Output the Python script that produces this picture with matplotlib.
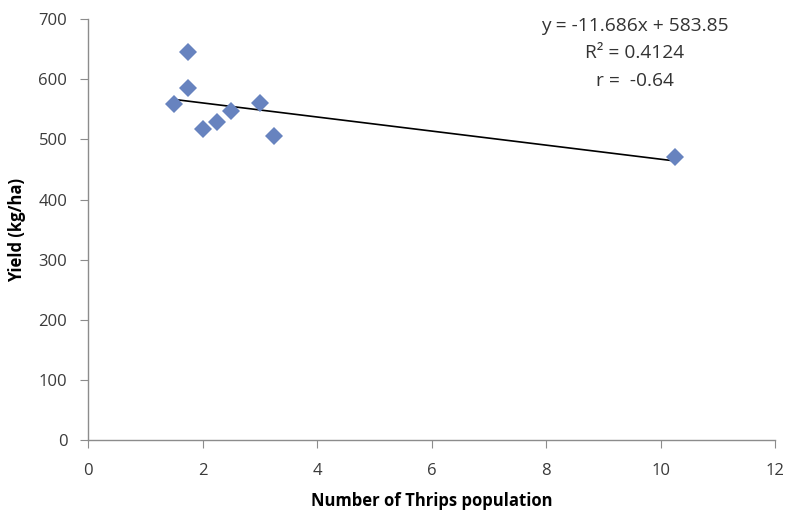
import matplotlib
matplotlib.use('Agg')
from matplotlib import pyplot as plt

# Data
thrips = [1.5, 1.75, 1.75, 2.0, 2.25, 2.5, 3.0, 3.25, 10.25]
yield_kg = [559, 645, 585, 517, 529, 547, 560, 506, 471]

slope, intercept = -11.686, 583.85
r_squared, r_value = 0.4124, -0.64

x_ticks = [0, 2, 4, 6, 8, 10, 12]
y_ticks = [0, 100, 200, 300, 400, 500, 600, 700]

plt.rcParams['font.family'] = ['Open Sans', 'DejaVu Sans']

fig = plt.figure(figsize=(7.87, 5.12), dpi=100)
ax = fig.add_axes([0.112, 0.140, 0.873, 0.823])

ax.plot(thrips, yield_kg, linestyle='none', marker='D', markersize=9.5,
        color='#6783BF', markeredgewidth=0, zorder=3)

# Linear trend line over the data range
x_min, x_max = min(thrips), max(thrips)
ax.plot([x_min, x_max], [slope * x_min + intercept, slope * x_max + intercept],
        color='black', linewidth=1.2, zorder=2)

ax.text(9.55, 704, "y = -11.686x + 583.85\nR² = 0.4124\nr =  -0.64",
        ha='center', va='top', fontsize=13.8, color='#333333', linespacing=1.68)

ax.set_xlim(0, 12)
ax.set_ylim(0, 700)
ax.set_xticks(x_ticks)
ax.set_yticks(y_ticks)

for side in ['top', 'right']:
    ax.spines[side].set_visible(False)
for side in ['left', 'bottom']:
    ax.spines[side].set_color('#8C8C8C')
    ax.spines[side].set_linewidth(1.0)

ax.tick_params(axis='both', direction='out', length=6, color='#8C8C8C',
               labelsize=12, labelcolor='#3A3A3A')
ax.tick_params(axis='x', pad=10)
ax.tick_params(axis='y', pad=9)

ax.set_xlabel('Number of Thrips population', fontsize=12, fontweight='bold', labelpad=10)
ax.set_ylabel('Yield (kg/ha)', fontsize=12, fontweight='bold', labelpad=9)

fig.savefig('out.png', dpi=100)
